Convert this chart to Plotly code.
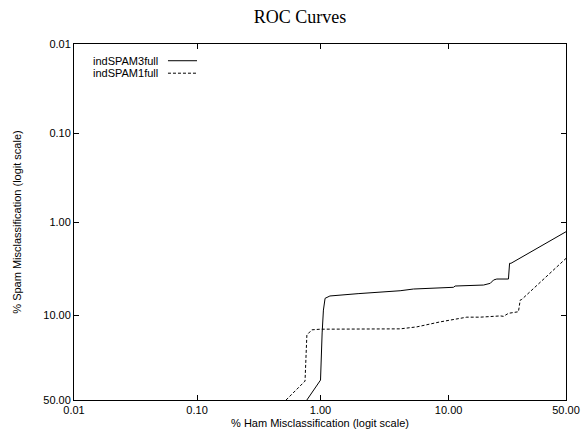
import numpy as np
import plotly.graph_objects as go

# % ham misclassification (x) and % spam misclassification (y)
spam3_ham = [0.776, 1.00, 1.03, 1.055, 1.088, 1.19, 2.0, 4.29, 5.44, 10.84, 11.15,
             17.6, 19.5, 20.5, 21.5, 25.4, 25.8, 26.3, 50.0]
spam3_spam = [50.0, 37.4, 15.0, 8.9, 6.72, 6.35, 6.0, 5.59, 5.36, 5.14, 4.98,
              4.86, 4.66, 4.29, 4.19, 4.19, 2.83, 2.83, 1.27]

spam1_ham = [0.527, 0.75, 0.776, 0.824, 0.85, 1.0, 2.5, 4.3, 5.78, 8.66, 13.5,
             16.7, 22.6, 23.7, 25.4, 29.1, 29.8, 30.4, 50.0]
spam1_spam = [50.0, 38.0, 15.7, 14.3, 14.0, 13.8, 13.7, 13.7, 13.1, 11.7, 10.5,
              10.5, 10.2, 10.3, 9.6, 9.25, 7.0, 6.9, 2.5]

tick_vals = [0.01, 0.1, 1, 10, 50]
tick_text = ['0.01', '0.10', '1.00', '10.00', '50.00']


def logit(pct):
    p = np.asarray(pct, dtype=float) / 100.0
    return np.log(p / (1 - p))


lo = float(logit(0.01))

fig = go.Figure()
fig.add_trace(go.Scatter(x=logit(spam3_ham), y=logit(spam3_spam), mode='lines',
                         name='indSPAM3full', line=dict(color='black', width=1)))
fig.add_trace(go.Scatter(x=logit(spam1_ham), y=logit(spam1_spam), mode='lines',
                         name='indSPAM1full', line=dict(color='black', width=1, dash='3px,2px')))

axis_style = dict(showgrid=False, zeroline=False, showline=True, linecolor='black',
                  linewidth=1, mirror='ticks', ticks='inside', ticklen=5, automargin=False,
                  ticklabeloverflow='allow',
                  tickcolor='black', tickfont=dict(family='Liberation Sans', size=11, color='black'))

fig.update_layout(
    width=582, height=438,
    margin=dict(l=74, r=16, t=44, b=38),
    paper_bgcolor='white', plot_bgcolor='white',
    showlegend=False,
    title=dict(text='ROC Curves', x=0.5155, xanchor='center', y=0.961, yanchor='middle',
               font=dict(family='Liberation Serif', size=18, color='black')),
    xaxis=dict(range=[lo, 0], tickvals=logit(tick_vals), ticktext=tick_text,
               title=dict(text='% Ham Misclassification (logit scale)', standoff=4,
                          font=dict(family='Liberation Sans', size=11, color='black')),
               **axis_style),
    yaxis=dict(range=[0, lo], tickvals=logit(tick_vals), ticktext=tick_text,
               title=dict(text='% Spam Misclassification (logit scale)', standoff=19,
                          font=dict(family='Liberation Sans', size=11, color='black')),
               **axis_style),
)

# gnuplot-style key: label on the left, line sample on the right
key_rows = [('indSPAM3full', 0.953, 'solid'), ('indSPAM1full', 0.918, '3px,2px')]
for label, ypos, dash in key_rows:
    fig.add_annotation(x=0.175, y=ypos, xref='paper', yref='paper', text=label,
                       showarrow=False, xanchor='right', yanchor='middle',
                       font=dict(family='Liberation Sans', size=11, color='black'))
    fig.add_shape(type='line', xref='paper', yref='paper', x0=0.191, x1=0.25, y0=ypos, y1=ypos,
                  line=dict(color='black', width=1, dash=dash))

# drop the default 8px body margin so the figure fills the window exactly
fig.write_html("out.html", config={'displayModeBar': False},
               post_script="document.body.style.margin='0';")
